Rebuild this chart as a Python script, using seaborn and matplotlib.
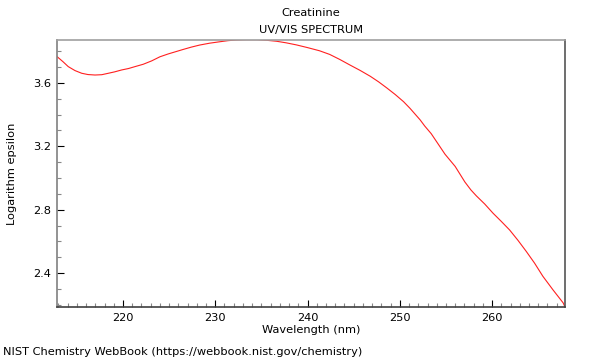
import matplotlib
matplotlib.use("Agg")
import matplotlib.pyplot as plt
import seaborn as sns
import pandas as pd
from matplotlib.ticker import MultipleLocator

wavelength = [212.86, 213.5, 214.07, 214.8, 215.53, 216.2, 216.97, 217.7, 218.41, 219.1,
              219.86, 220.6, 221.3, 222.2, 223.1, 224.0, 224.9, 225.7, 226.5, 227.4,
              228.3, 229.4, 230.5, 231.4, 232.3, 233.4, 234.5, 235.6, 236.65, 237.7,
              238.8, 240.0, 241.3, 242.4, 243.5, 244.6, 245.7, 246.8, 247.7, 248.6,
              249.5, 250.4, 251.1, 252.2, 252.7, 253.4, 254.0, 254.9, 256.0, 257.05,
              257.7, 258.3, 259.2, 260.1, 261.0, 261.9, 262.8, 263.7, 264.6, 265.5,
              266.6, 267.7, 267.9]
log_epsilon = [3.766, 3.734, 3.703, 3.678, 3.661, 3.653, 3.650, 3.652, 3.661, 3.670,
               3.682, 3.691, 3.703, 3.718, 3.739, 3.765, 3.783, 3.797, 3.811, 3.826,
               3.839, 3.851, 3.860, 3.867, 3.871, 3.873, 3.873, 3.869, 3.863, 3.853,
               3.840, 3.823, 3.803, 3.780, 3.748, 3.713, 3.679, 3.642, 3.607, 3.568,
               3.527, 3.482, 3.440, 3.367, 3.328, 3.280, 3.228, 3.150, 3.073, 2.975,
               2.925, 2.887, 2.836, 2.778, 2.726, 2.672, 2.607, 2.537, 2.463, 2.380,
               2.294, 2.212, 2.186]

df = pd.DataFrame({"Wavelength (nm)": wavelength, "Logarithm epsilon": log_epsilon})

sns.set_style("ticks")
plt.rcParams['font.family'] = ['DejaVu Sans']
plt.rcParams['text.color'] = 'black'
plt.rcParams['axes.labelcolor'] = 'black'
plt.rcParams['xtick.labelcolor'] = 'black'
plt.rcParams['ytick.labelcolor'] = 'black'

fs = 8.2
fig = plt.figure(figsize=(6, 3.6), dpi=100)
ax = fig.add_axes([57/600, 1-307/360, (565-57)/600, (307-40)/360])
sns.lineplot(data=df, x="Wavelength (nm)", y="Logarithm epsilon", ax=ax,
             color="#ff2020", linewidth=0.8)

ax.set_xlim(212.85, 267.9)
ax.set_ylim(2.186, 3.871)
ax.xaxis.set_major_locator(MultipleLocator(10))
ax.xaxis.set_minor_locator(MultipleLocator(1))
ax.yaxis.set_major_locator(MultipleLocator(0.4))
ax.yaxis.set_minor_locator(MultipleLocator(0.1))
ax.tick_params(which="both", direction="in", top=False, right=False, labelsize=fs)
ax.tick_params(which="major", length=5, width=0.8, color="black", pad=4)
ax.tick_params(which="minor", length=3, width=0.8, color="#888888")

ax.spines["top"].set_color("#a0a0a0")
ax.spines["left"].set_color("#808080")
ax.spines["right"].set_color("#555555")
ax.spines["bottom"].set_color("#404040")
for s in ax.spines.values():
    s.set_linewidth(1.2)

ax.set_xlabel("Wavelength (nm)", fontsize=fs, labelpad=2)
ax.set_ylabel("Logarithm epsilon", fontsize=fs, labelpad=12)

fig.text(311/600, 1-13/360, "Creatinine", ha="center", va="center", fontsize=fs)
fig.text(311/600, 1-30/360, "UV/VIS SPECTRUM", ha="center", va="center", fontsize=fs)
fig.text(3/600, 1-352/360, "NIST Chemistry WebBook (https://webbook.nist.gov/chemistry)",
         ha="left", va="center", fontsize=fs)

fig.savefig("out.png", dpi=100)
